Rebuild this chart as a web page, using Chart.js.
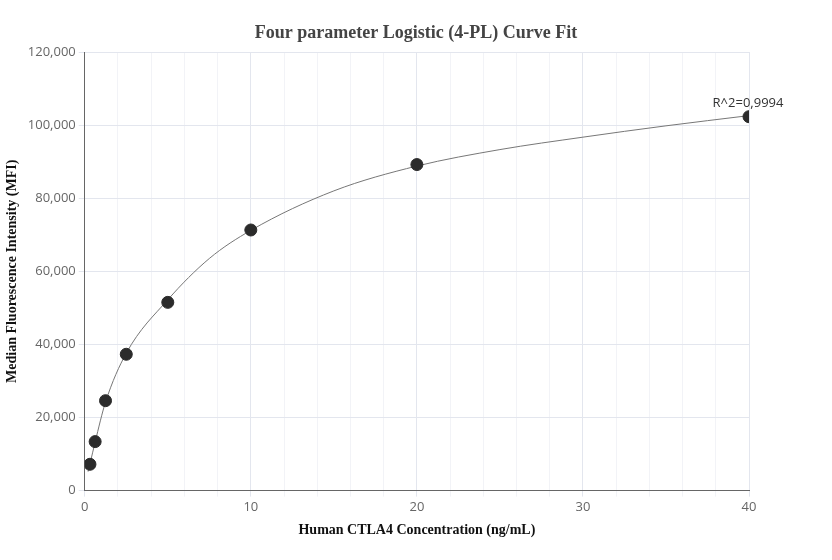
<!DOCTYPE html><html><head><script src="https://cdn.jsdelivr.net/npm/chart.js@4/dist/chart.umd.min.js"></script>
<style>body{margin:0;background:#fff}#w{width:832px;height:560px}</style></head><body><div id="w"><canvas id="c"></canvas></div>
<script>
const concX=[0.3125,0.625,1.25,2.5,5,10,20,40];
const mfiY=[7200,13400,24600,37300,51500,71300,89200,102300];
const curveX=[0.2,0.3125,0.625,1.25,2.5,5,7.5,10,15,20,25,30,35,40];
const curveY=[5200,7300,13300,24200,37600,52200,63500,71200,82000,88800,93300,96700,99800,102600];
const r2Label="R^2=0,9994";
const titleText='Four parameter Logistic (4-PL) Curve Fit';
const labelPlugin={id:'lbl',afterDatasetsDraw(ch){const c=ch.ctx,x=ch.scales.x,y=ch.scales.y;c.save();c.font='13px "Open Sans", sans-serif';c.fillStyle='#333';c.textAlign='center';c.fillText(r2Label,x.getPixelForValue(concX[7])-1,y.getPixelForValue(mfiY[7])-10);
c.font='bold 18px "Liberation Serif"';c.fillStyle='#444';c.textBaseline='middle';c.fillText(titleText,ch.width/2,33);c.restore();}};
new Chart(document.getElementById('c'),{type:'scatter',data:{datasets:[
{data:concX.map((v,i)=>({x:v,y:mfiY[i]})),backgroundColor:'#2b2b2b',borderColor:'#2b2b2b',pointRadius:6,pointHoverRadius:6},
{type:'line',data:curveX.map((v,i)=>({x:v,y:curveY[i]})),borderColor:'#777',borderWidth:1,pointRadius:0,cubicInterpolationMode:'monotone',fill:false}
]},plugins:[labelPlugin],options:{responsive:true,maintainAspectRatio:false,animation:false,
layout:{padding:{left:0,right:83,top:52,bottom:17}},
plugins:{legend:{display:false},tooltip:{enabled:false},title:{display:false}},
scales:{x:{type:'linear',min:0,max:40,ticks:{stepSize:2,autoSkip:false,maxRotation:0,color:'#666',font:{size:13,family:'"Open Sans", sans-serif'},callback:v=>v%10===0?v:''},grid:{color:c=>c.tick&&c.tick.value%10===0?'#e3e6ee':'#f2f3f7',tickLength:6},border:{color:'#666'},title:{display:true,text:'Human CTLA4 Concentration (ng/mL)',color:'#111',font:{family:'Liberation Serif',size:14,weight:'bold'}}},
y:{min:0,max:120000,ticks:{stepSize:20000,color:'#666',font:{size:13,family:'"Open Sans", sans-serif'},callback:v=>v.toLocaleString('en-US')},grid:{color:'#e3e6ee',tickLength:6},border:{color:'#666'},title:{display:true,text:'Median Fluorescence Intensity (MFI)',color:'#111',font:{family:'Liberation Serif',size:14,weight:'bold'}}}}}});
</script></body></html>
